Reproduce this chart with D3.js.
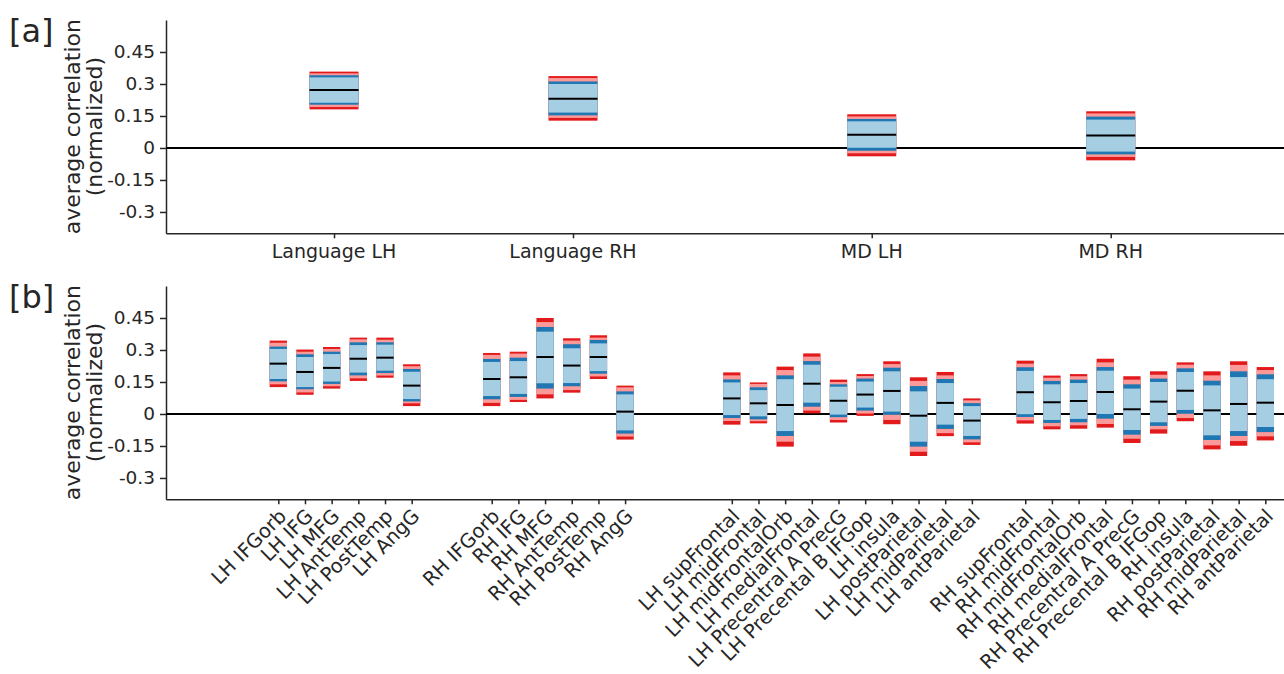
<!DOCTYPE html>
<html>
<head>
<meta charset="utf-8">
<script src="https://cdn.jsdelivr.net/npm/d3@7"></script>
<style>
  body { margin: 0; background: #fff; }
  text { font-family: 'DejaVu Sans', sans-serif; fill: #262626; }
  .axis path, .axis line { stroke: #262626; stroke-width: 1.5; }
  .axis text { font-size: 18.5px; fill: #262626; }
</style>
</head>
<body>
<div id="chart"></div>
<script>
// panel [a]: network level
const regionsA = ['Language LH', 'Language RH', 'MD LH', 'MD RH']
const medianA = [0.272, 0.231, 0.062, 0.059]
const innerA = [[0.212, 0.331], [0.166, 0.300], [0.001, 0.125], [-0.017, 0.133]]
const blueA = [[0.203, 0.341], [0.153, 0.312], [-0.013, 0.136], [-0.030, 0.147]]
const pinkA = [[0.192, 0.350], [0.141, 0.328], [-0.025, 0.148], [-0.042, 0.162]]
const redA = [[0.181, 0.358], [0.128, 0.337], [-0.039, 0.158], [-0.058, 0.172]]

// panel [b]: single regions
const regionsB = [
  'LH IFGorb', 'LH IFG', 'LH MFG', 'LH AntTemp', 'LH PostTemp', 'LH AngG',
  'RH IFGorb', 'RH IFG', 'RH MFG', 'RH AntTemp', 'RH PostTemp', 'RH AngG',
  'LH supFrontal', 'LH midFrontal', 'LH midFrontalOrb', 'LH medialFrontal', 'LH Precentral A PrecG',
  'LH Precental B IFGop', 'LH insula', 'LH postParietal', 'LH midParietal', 'LH antParietal',
  'RH supFrontal', 'RH midFrontal', 'RH midFrontalOrb', 'RH medialFrontal', 'RH Precentral A PrecG',
  'RH Precental B IFGop', 'RH insula', 'RH postParietal', 'RH midParietal', 'RH antParietal'
]
const medianB = [0.236, 0.197, 0.216, 0.259, 0.264, 0.133,
  0.164, 0.172, 0.267, 0.227, 0.267, 0.011,
  0.073, 0.050, 0.042, 0.142, 0.062, 0.091, 0.108, -0.008, 0.052, -0.031,
  0.102, 0.055, 0.061, 0.103, 0.022, 0.058, 0.109, 0.017, 0.047, 0.053]
const innerB = [[0.164, 0.305], [0.126, 0.267], [0.152, 0.281], [0.194, 0.323], [0.203, 0.325], [0.070, 0.198],
  [0.084, 0.244], [0.094, 0.248], [0.144, 0.386], [0.145, 0.308], [0.201, 0.331], [-0.077, 0.092],
  [-0.005, 0.148], [-0.011, 0.112], [-0.080, 0.163], [0.053, 0.231], [-0.003, 0.128],
  [0.030, 0.152], [0.011, 0.200], [-0.130, 0.106], [-0.050, 0.145], [-0.103, 0.037],
  [-0.001, 0.202], [-0.028, 0.139], [-0.023, 0.145], [0.000, 0.203], [-0.075, 0.119],
  [-0.039, 0.150], [0.019, 0.197], [-0.100, 0.134], [-0.080, 0.173], [-0.061, 0.163]]
const blueB = [[0.153, 0.316], [0.116, 0.280], [0.141, 0.292], [0.181, 0.336], [0.192, 0.336], [0.059, 0.211],
  [0.069, 0.258], [0.080, 0.264], [0.119, 0.408], [0.130, 0.327], [0.189, 0.347], [-0.092, 0.106],
  [-0.019, 0.162], [-0.025, 0.125], [-0.103, 0.181], [0.034, 0.248], [-0.015, 0.139],
  [0.016, 0.166], [-0.004, 0.217], [-0.153, 0.131], [-0.070, 0.164], [-0.119, 0.051],
  [-0.014, 0.219], [-0.042, 0.155], [-0.039, 0.161], [-0.022, 0.220], [-0.097, 0.139],
  [-0.056, 0.166], [0.001, 0.214], [-0.122, 0.156], [-0.103, 0.200], [-0.085, 0.186]]
const pinkB = [[0.139, 0.334], [0.101, 0.292], [0.130, 0.305], [0.167, 0.350], [0.180, 0.348], [0.050, 0.224],
  [0.052, 0.277], [0.066, 0.283], [0.092, 0.431], [0.112, 0.344], [0.176, 0.358], [-0.106, 0.125],
  [-0.033, 0.181], [-0.034, 0.141], [-0.130, 0.206], [0.016, 0.269], [-0.028, 0.150],
  [0.002, 0.178], [-0.028, 0.234], [-0.177, 0.155], [-0.090, 0.181], [-0.133, 0.064],
  [-0.030, 0.236], [-0.058, 0.170], [-0.053, 0.177], [-0.047, 0.242], [-0.116, 0.161],
  [-0.072, 0.184], [-0.019, 0.231], [-0.147, 0.181], [-0.127, 0.230], [-0.105, 0.206]]
const redB = [[0.126, 0.344], [0.090, 0.302], [0.119, 0.314], [0.155, 0.358], [0.170, 0.358], [0.037, 0.233],
  [0.037, 0.286], [0.056, 0.292], [0.073, 0.450], [0.100, 0.355], [0.164, 0.369], [-0.120, 0.133],
  [-0.050, 0.195], [-0.044, 0.148], [-0.153, 0.222], [0.003, 0.284], [-0.040, 0.161],
  [-0.009, 0.187], [-0.048, 0.247], [-0.197, 0.172], [-0.104, 0.197], [-0.145, 0.073],
  [-0.045, 0.250], [-0.072, 0.180], [-0.069, 0.187], [-0.064, 0.259], [-0.136, 0.177],
  [-0.092, 0.200], [-0.034, 0.242], [-0.166, 0.200], [-0.149, 0.247], [-0.124, 0.220]]

const yTicks = [0.45, 0.3, 0.15, 0, -0.15, -0.3]
const yTickLabels = ['0.45', '0.3', '0.15', '0', '-0.15', '-0.3']

const W = 1284, H = 674
const colors = { red: '#e31a1c', pink: '#fb9a99', blue: '#1f78b4', inner: '#a6cee3' }

let svg = d3.select('#chart').append('svg').attr('width', W).attr('height', H)

// slot positions: groups separated by some empty slots
function slots (sizes, gaps) {
  let pos = [], p = 0
  sizes.forEach((n, g) => {
    p += gaps[g]
    for (let i = 0; i < n; i++) pos.push(p++)
  })
  return pos
}

function drawPanel (op) {
  let x = d3.scaleLinear().domain(op.xDomain).range([166, W])
  let y = d3.scaleLinear().domain([-0.4, 0.6]).range([op.bottom, op.top])
  let pos = slots(op.sizes, op.gaps)
  let g = svg.append('g')

  // y axis
  g.append('g').classed('axis', true)
    .attr('transform', 'translate(166,0)')
    .call(d3.axisLeft(y).tickValues(yTicks).tickFormat((d, i) => yTickLabels[i])
      .tickSizeInner(6).tickSizeOuter(0).tickPadding(5))

  // x axis
  let xAxis = g.append('g').classed('axis', true)
    .attr('transform', `translate(0,${op.bottom})`)
    .call(d3.axisBottom(x).tickValues(pos).tickFormat('').tickSizeInner(5).tickSizeOuter(0))
  if (op.rotate) {
    xAxis.selectAll('.lbl').data(op.names).enter().append('text').classed('lbl', true)
      .attr('transform', (d, i) => `translate(${x(pos[i])},9) rotate(-45)`)
      .attr('text-anchor', 'end').attr('dy', '0.66em')
      .style('font-size', '19.5px').style('fill', '#262626')
      .text(d => d)
  } else {
    xAxis.selectAll('.lbl').data(op.names).enter().append('text').classed('lbl', true)
      .attr('x', (d, i) => x(pos[i])).attr('y', 25)
      .attr('text-anchor', 'middle')
      .style('font-size', '19px').style('fill', '#262626')
      .text(d => d)
  }

  // zero line
  g.append('line').attr('x1', 166).attr('x2', W).attr('y1', y(0)).attr('y2', y(0))
    .attr('stroke', '#000').attr('stroke-width', 1.8)

  // nested bands, outer first
  let bw = op.boxWidth
  let bands = [['red', op.red], ['pink', op.pink], ['blue', op.blue], ['inner', op.inner]]
  bands.forEach(([key, vals]) => {
    g.append('g').selectAll('rect').data(vals).enter().append('rect')
      .attr('x', (d, i) => x(pos[i]) - bw / 2)
      .attr('width', bw)
      .attr('y', d => y(d[1]))
      .attr('height', d => y(d[0]) - y(d[1]))
      .attr('fill', colors[key])
  })
  g.append('g').selectAll('line').data(op.median).enter().append('line')
    .attr('x1', (d, i) => x(pos[i]) - bw / 2)
    .attr('x2', (d, i) => x(pos[i]) + bw / 2)
    .attr('y1', d => y(d)).attr('y2', d => y(d))
    .attr('stroke', '#000').attr('stroke-width', 2)

  // y label
  let cy = (op.top + op.bottom) / 2
  g.append('text').attr('transform', `translate(80,${cy}) rotate(-90)`)
    .attr('text-anchor', 'middle').style('font-size', '22px').text('average correlation')
  g.append('text').attr('transform', `translate(102,${cy}) rotate(-90)`)
    .attr('text-anchor', 'middle').style('font-size', '22px').text('(normalized)')

  // panel tag
  g.append('text').attr('x', 9).attr('y', op.top + 22).style('font-size', '32px').text(op.tag)
}

drawPanel({
  tag: '[a]', top: 20, bottom: 233.3, xDomain: [-0.703, 3.975], boxWidth: 49,
  sizes: [1, 1, 1, 1], gaps: [0, 0, 0.25, 0], names: regionsA, rotate: false,
  median: medianA, inner: innerA, blue: blueA, pink: pinkA, red: redA
})
drawPanel({
  tag: '[b]', top: 286, bottom: 499.3, xDomain: [-4.21, 37.7], boxWidth: 17.3,
  sizes: [6, 6, 10, 10], gaps: [0, 2, 3, 1], names: regionsB, rotate: true,
  median: medianB, inner: innerB, blue: blueB, pink: pinkB, red: redB
})
</script>
</body>
</html>
